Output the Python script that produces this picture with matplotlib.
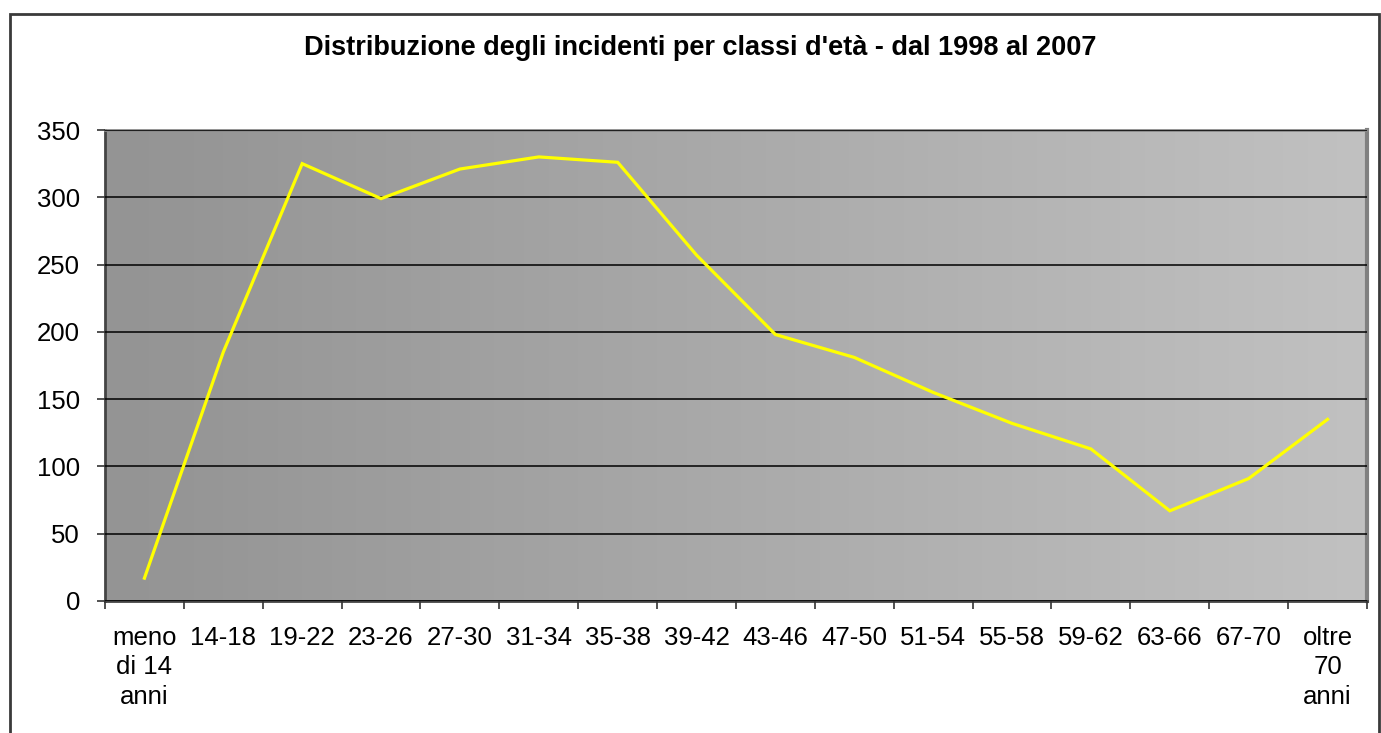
import numpy as np
import matplotlib
matplotlib.use("Agg")
import matplotlib.pyplot as plt
from matplotlib.colors import LinearSegmentedColormap
from matplotlib.patches import Rectangle

plt.rcParams['font.family'] = ['Liberation Sans', 'DejaVu Sans']

classi = ['meno\ndi 14\nanni', '14-18', '19-22', '23-26', '27-30', '31-34', '35-38',
          '39-42', '43-46', '47-50', '51-54', '55-58', '59-62', '63-66', '67-70',
          'oltre\n70\nanni']
incidenti = [17, 185, 325, 299, 321, 330, 326, 257, 198, 181, 155, 132, 113, 67, 91, 135]
yticks = [0, 50, 100, 150, 200, 250, 300, 350]

fig = plt.figure(figsize=(13.81, 7.33), dpi=100)
ax = fig.add_axes([105/1381, 1-601/733, (1367-105)/1381, (601-130)/733])

# outer chart border
fig.patches.append(Rectangle((10/1381, -0.05), (1379-10)/1381, 1.05-14/733,
                             transform=fig.transFigure, fill=False,
                             edgecolor='#3a3a3a', lw=2, zorder=0))

# horizontal grey gradient of the plot area
cmap = LinearSegmentedColormap.from_list(
    'bg', [(0, '#949494'), (0.07, '#969696'), (1, '#c1c1c1')])
grad = np.linspace(0, 1, 256).reshape(1, -1)
ax.imshow(grad, cmap=cmap, aspect='auto', extent=[0, 1, 0, 1],
          transform=ax.transAxes, zorder=0)

n = len(classi)
xs = np.arange(n) + 0.5
ax.plot(xs, incidenti, color='#ffff00', lw=2.3, zorder=3, solid_joinstyle='miter')

ax.set_xlim(0, n)
ax.set_ylim(0, 350)
ax.set_yticks(yticks)
ax.set_xticks(np.arange(n + 1))
ax.set_xticklabels([])
ax.set_xticks(xs, minor=True)
ax.set_xticklabels(classi, minor=True, linespacing=1.28)
ax.tick_params(axis='x', which='minor', length=0, pad=18, labelsize=18.5)
ax.tick_params(axis='x', which='major', length=6, width=1.2, color='#333333')
ax.tick_params(axis='y', length=6, width=1.2, color='#333333', pad=12, labelsize=18.5)
ax.grid(axis='y', color='black', lw=1.1, zorder=1)
ax.set_axisbelow(False)
for l in ax.get_ygridlines():
    l.set_zorder(1)

ax.spines['left'].set_color('#444444')
ax.spines['left'].set_linewidth(2)
ax.spines['bottom'].set_color('#444444')
ax.spines['bottom'].set_linewidth(2)
ax.spines['top'].set_color('#8a8a8a')
ax.spines['top'].set_linewidth(2)
ax.spines['right'].set_color('#808080')
ax.spines['right'].set_linewidth(3)

fig.text(700/1381, 1-48/733, "Distribuzione degli incidenti per classi d'età - dal 1998 al 2007",
         ha='center', va='center', fontsize=19.5, fontweight='bold')

fig.savefig('out.png', dpi=100)
